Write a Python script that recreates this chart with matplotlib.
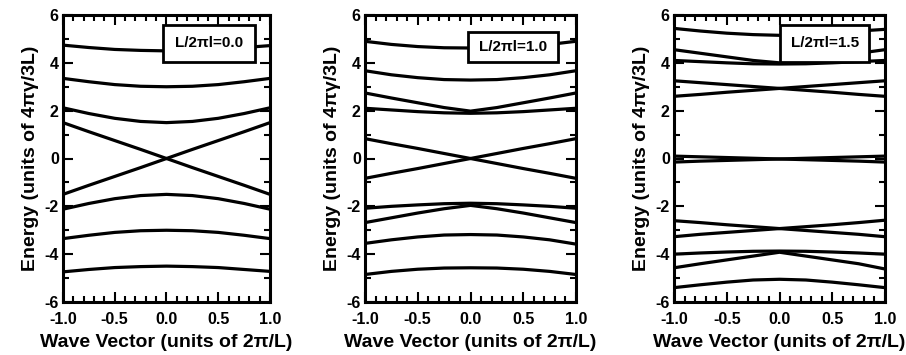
import matplotlib
matplotlib.use("Agg")
import matplotlib.pyplot as plt
from matplotlib.ticker import MultipleLocator

plt.rcParams['font.family'] = ['Liberation Sans', 'DejaVu Sans']
plt.rcParams['font.weight'] = 'bold'

k = [-1.0, -0.75, -0.5, -0.25, 0.0, 0.25, 0.5, 0.75, 1.0]

# Panel 1: L/2pi l = 0.0
bands_00 = [
    [4.74, 4.64, 4.56, 4.52, 4.50, 4.52, 4.56, 4.64, 4.72],
    [3.35, 3.21, 3.09, 3.02, 3.00, 3.02, 3.09, 3.21, 3.35],
    [2.12, 1.88, 1.68, 1.55, 1.50, 1.55, 1.68, 1.88, 2.12],
    [1.50, 1.12, 0.75, 0.38, 0.00, -0.38, -0.75, -1.12, -1.50],
    [-1.50, -1.12, -0.75, -0.38, 0.00, 0.38, 0.75, 1.12, 1.50],
    [-2.12, -1.88, -1.68, -1.55, -1.50, -1.55, -1.68, -1.88, -2.12],
    [-3.35, -3.21, -3.09, -3.02, -3.00, -3.02, -3.09, -3.21, -3.35],
    [-4.74, -4.64, -4.56, -4.52, -4.50, -4.52, -4.56, -4.64, -4.72],
]

# Panel 2: L/2pi l = 1.0
bands_10 = [
    [4.90, 4.77, 4.68, 4.63, 4.62, 4.63, 4.68, 4.77, 4.90],
    [3.67, 3.50, 3.38, 3.30, 3.28, 3.30, 3.38, 3.50, 3.67],
    [2.74, 2.53, 2.33, 2.13, 1.98, 2.13, 2.33, 2.53, 2.74],
    [2.10, 2.03, 1.96, 1.91, 1.89, 1.91, 1.96, 2.03, 2.10],
    [0.83, 0.62, 0.42, 0.21, 0.00, -0.21, -0.42, -0.62, -0.83],
    [-0.83, -0.62, -0.42, -0.21, 0.00, 0.21, 0.42, 0.62, 0.83],
    [-2.08, -2.00, -1.94, -1.89, -1.87, -1.89, -1.94, -2.00, -2.08],
    [-2.68, -2.48, -2.28, -2.10, -1.96, -2.10, -2.28, -2.48, -2.68],
    [-3.55, -3.40, -3.28, -3.20, -3.18, -3.20, -3.28, -3.40, -3.58],
    [-4.85, -4.72, -4.63, -4.58, -4.57, -4.58, -4.63, -4.72, -4.85],
]

# Panel 3: L/2pi l = 1.5
bands_15 = [
    [5.44, 5.33, 5.24, 5.18, 5.15, 5.18, 5.24, 5.33, 5.40],
    [4.55, 4.40, 4.25, 4.10, 4.00, 4.10, 4.25, 4.40, 4.55],
    [4.10, 4.05, 4.00, 3.96, 3.95, 3.96, 4.00, 4.05, 4.10],
    [3.25, 3.17, 3.09, 3.01, 2.93, 2.85, 2.77, 2.68, 2.60],
    [2.60, 2.68, 2.77, 2.85, 2.93, 3.01, 3.09, 3.17, 3.25],
    [0.10, 0.07, 0.04, 0.01, -0.02, -0.05, -0.08, -0.11, -0.15],
    [-0.15, -0.11, -0.08, -0.05, -0.02, 0.01, 0.04, 0.07, 0.10],
    [-2.60, -2.68, -2.77, -2.85, -2.93, -3.01, -3.09, -3.17, -3.27],
    [-3.27, -3.17, -3.09, -3.01, -2.93, -2.85, -2.77, -2.68, -2.58],
    [-4.00, -3.95, -3.91, -3.88, -3.87, -3.88, -3.91, -3.95, -4.00],
    [-4.57, -4.40, -4.24, -4.08, -3.92, -4.08, -4.24, -4.40, -4.62],
    [-5.40, -5.28, -5.17, -5.08, -5.05, -5.08, -5.17, -5.28, -5.40],
]

panel_bands = [bands_00, bands_10, bands_15]
panel_labels = ["L/2\u03c0l=0.0", "L/2\u03c0l=1.0", "L/2\u03c0l=1.5"]
x_ticks = [-1.0, -0.5, 0.0, 0.5, 1.0]
x_ticklabels = ["-1.0", "-0.5", "0.0", "0.5", "1.0"]
y_ticks = [-6, -4, -2, 0, 2, 4, 6]
y_ticklabels = ["-6", "-4", "-2", "0", "2", "4", "6"]

fig = plt.figure(figsize=(9.06, 3.55), dpi=100)
lefts = [63 / 906, 365 / 906, 674 / 906]
widths = [207 / 906, 211 / 906, 211 / 906]
bottom = 1 - 302 / 355
height = (302 - 15) / 355

legend_boxes = [(-0.03, 4.04, 0.885, 1.54), (-0.02, 4.04, 0.85, 1.26), (0.005, 4.04, 0.845, 1.54)]

for i in range(3):
    ax = fig.add_axes([lefts[i], bottom, widths[i], height])
    for b in panel_bands[i]:
        ax.plot(k, b, color='black', lw=2.3, solid_capstyle='butt', zorder=2)
    ax.set_xlim(-1, 1)
    ax.set_ylim(-6, 6)
    ax.set_xticks(x_ticks)
    ax.set_xticklabels(x_ticklabels)
    ax.set_yticks(y_ticks)
    ax.set_yticklabels(y_ticklabels)
    ax.xaxis.set_minor_locator(MultipleLocator(0.1))
    ax.yaxis.set_minor_locator(MultipleLocator(1))
    ax.tick_params(which='both', direction='in', top=True, right=True, width=1.5,
                   labelsize=11.5)
    ax.tick_params(axis='x', which='major', pad=7)
    ax.tick_params(axis='y', which='major', pad=3)
    ax.tick_params(which='major', length=7)
    ax.tick_params(which='minor', length=4)
    for t in ax.get_xticklabels() + ax.get_yticklabels():
        t.set_fontweight('bold')
    for s in ax.spines.values():
        s.set_linewidth(2.2)
    ax.set_xlabel("Wave Vector (units of 2\u03c0/L)", fontsize=14, fontweight='bold', labelpad=5)
    ax.set_ylabel("Energy (units of 4\u03c0\u03b3/3L)", fontsize=14, fontweight='bold', labelpad=4)
    x0, y0, w, h = legend_boxes[i]
    rect = plt.Rectangle((x0, y0), w, h, facecolor='white', edgecolor='black', lw=2.0, zorder=5)
    ax.add_patch(rect)
    ax.text(x0 + w / 2, y0 + h / 2, panel_labels[i], ha='center', va='center',
            fontsize=11, fontweight='bold', zorder=6)

fig.savefig("out.png", dpi=100)
